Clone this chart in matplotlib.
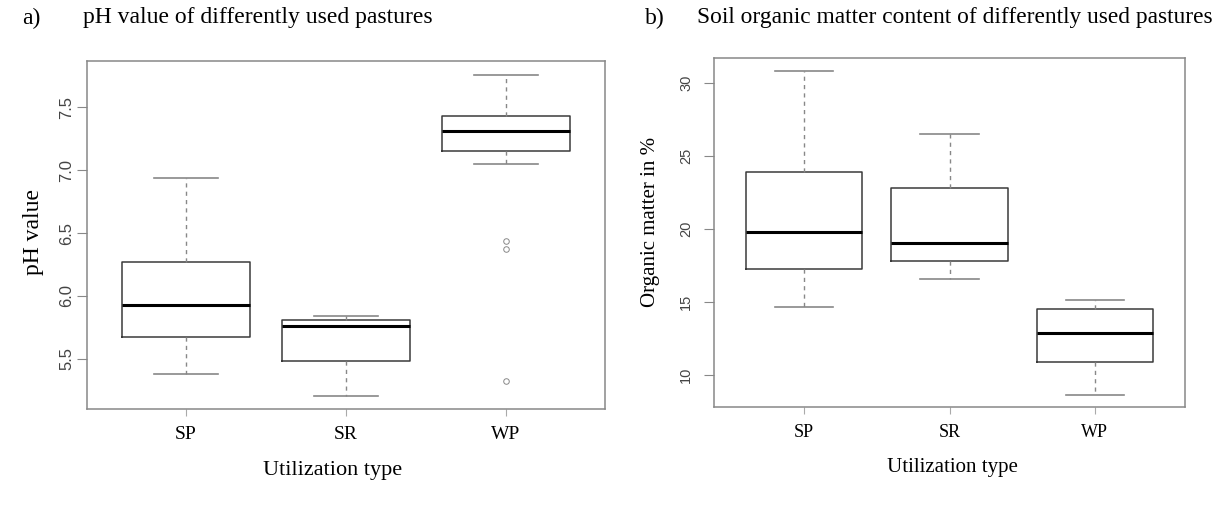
import matplotlib
matplotlib.use("Agg")
import matplotlib.pyplot as plt

# utilization types
types = ["SP", "SR", "WP"]

# a) pH value
ph_whislo = [5.38, 5.20, 7.05]
ph_q1 = [5.67, 5.48, 7.15]
ph_med = [5.93, 5.76, 7.31]
ph_q3 = [6.27, 5.81, 7.43]
ph_whishi = [6.94, 5.84, 7.76]
ph_fliers = [[], [], [6.44, 6.37, 5.32]]
ph_ticks = [5.5, 6.0, 6.5, 7.0, 7.5]

# b) organic matter in %
om_whislo = [14.66, 16.6, 8.63]
om_q1 = [17.26, 17.8, 10.9]
om_med = [19.8, 19.04, 12.88]
om_q3 = [23.9, 22.8, 14.5]
om_whishi = [30.82, 26.5, 15.14]
om_fliers = [[], [], []]
om_ticks = [10, 15, 20, 25, 30]

W, H = 1221, 511
serif = "Liberation Serif"
sans = "Liberation Sans"


def stats(lo, q1, med, q3, hi, fl):
    out = []
    for i in range(len(types)):
        out.append({"whislo": lo[i], "q1": q1[i], "med": med[i], "q3": q3[i],
                    "whishi": hi[i], "fliers": fl[i], "label": types[i]})
    return out


def draw(ax, st, yticks, ylabels, ysize, xsize, ypad):
    ax.bxp(st, positions=[1, 2, 3], widths=0.8, showfliers=True,
           boxprops=dict(color="#3a3a3a", linewidth=1.1),
           medianprops=dict(color="black", linewidth=2.2),
           whiskerprops=dict(color="#888888", linewidth=1, linestyle=(0, (3, 3))),
           capprops=dict(color="#888888", linewidth=1.2),
           flierprops=dict(marker="o", markersize=4, markerfacecolor="none",
                           markeredgecolor="#888888", markeredgewidth=0.7))
    ax.set_xlim(0.38, 3.62)
    ax.set_yticks(yticks)
    ax.set_yticklabels(ylabels, rotation=90, va="center", family=sans,
                       fontsize=ysize, color="#444444")
    ax.set_xticks([1, 2, 3])
    ax.set_xticklabels(types, family=serif, fontsize=xsize)
    ax.tick_params(axis="y", length=7, color="#888888", pad=ypad)
    ax.tick_params(axis="x", length=5, color="#aaaaaa", pad=7)
    for s in ax.spines.values():
        s.set_color("#888888")
        s.set_linewidth(1.1)


fig = plt.figure(figsize=(W / 100, H / 100), dpi=100)

ax1 = fig.add_axes([87 / W, 1 - 409 / H, 518 / W, 348 / H])
draw(ax1, stats(ph_whislo, ph_q1, ph_med, ph_q3, ph_whishi, ph_fliers),
     ph_ticks, [f"{t:.1f}" for t in ph_ticks], 12, 14, 2)
ax1.set_ylim(5.10, 7.87)

ax2 = fig.add_axes([714 / W, 1 - 407 / H, 471 / W, 349 / H])
draw(ax2, stats(om_whislo, om_q1, om_med, om_q3, om_whishi, om_fliers),
     om_ticks, [str(t) for t in om_ticks], 10.5, 13, 8)
ax2.set_ylim(7.81, 31.71)

# titles and axis labels
fig.text(22 / W, 1 - 18 / H, "a)", family=serif, fontsize=17, va="center")
fig.text(83 / W, 1 - 18 / H, "pH value of differently used pastures",
         family=serif, fontsize=17, va="center")
fig.text(645 / W, 1 - 18 / H, "b)", family=serif, fontsize=17, va="center")
fig.text(697 / W, 1 - 18 / H, "Soil organic matter content of differently used pastures",
         family=serif, fontsize=16.8, va="center")

fig.text(34 / W, 1 - 232 / H, "pH value", family=serif, fontsize=17,
         rotation=90, ha="center", va="center")
fig.text(650 / W, 1 - 222 / H, "Organic matter in %", family=serif, fontsize=15,
         rotation=90, ha="center", va="center")
fig.text(333 / W, 1 - 470 / H, "Utilization type", family=serif, fontsize=16,
         ha="center", va="center")
fig.text(952 / W, 1 - 467 / H, "Utilization type", family=serif, fontsize=15,
         ha="center", va="center")

fig.savefig("out.png", dpi=100)
